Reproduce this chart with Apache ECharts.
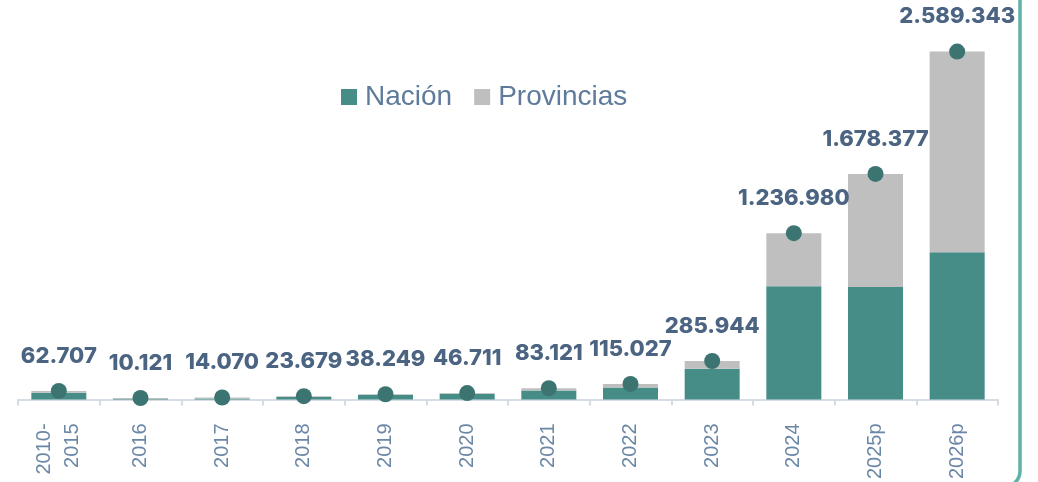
<!DOCTYPE html>
<html>
<head>
<meta charset="utf-8">
<script src="https://cdn.jsdelivr.net/npm/echarts@6/dist/echarts.min.js"></script>
<style>
html,body{margin:0;padding:0;background:#fff;}
#chart{width:1038px;height:482px;}
</style>
</head>
<body>
<div id="chart"></div>
<script>
const categories = ['2010-\n2015','2016','2017','2018','2019','2020','2021','2022','2023','2024','2025p','2026p'];
const nacion = [50000, 3000, 6000, 18000, 34000, 42000, 66000, 88000, 228000, 842000, 837000, 1096000];
const provincias = [12707, 7121, 8070, 5679, 4249, 4711, 17121, 27027, 57944, 394980, 841377, 1493343];
const totals = [62707, 10121, 14070, 23679, 38249, 46711, 83121, 115027, 285944, 1236980, 1678377, 2589343];

function fmt(v){ return String(v).replace(/\B(?=(\d{3})+(?!\d))/g, '.'); }

const chart = echarts.init(document.getElementById('chart'));
chart.setOption({
  animation: false,
  backgroundColor: '#ffffff',
  grid: { left: 18, right: 40, top: 0, bottom: 77, containLabel: false },
  legend: {
    left: 336, top: 78,
    icon: 'rect', itemWidth: 16, itemHeight: 16, itemGap: 22,
    textStyle: { fontFamily: 'Liberation Sans', fontSize: 28, color: '#5F7B9B', padding: [0,0,0,3] },
    data: ['Nación', 'Provincias']
  },
  xAxis: {
    type: 'category',
    data: categories,
    offset: 4,
    axisLine: { lineStyle: { color: '#D6DCE4', width: 2 } },
    axisTick: { show: true, length: 6, lineStyle: { color: '#D6DCE4', width: 2 } },
    axisLabel: {
      rotate: 90, margin: 20, interval: 0,
      fontFamily: 'Liberation Sans', fontSize: 20, color: '#6B87A6', lineHeight: 28
    }
  },
  yAxis: { type: 'value', min: 0, max: 2973000, show: false, splitLine: { show: false } },
  graphic: [{
    type: 'rect',
    shape: { x: -50, y: -50, width: 1070, height: 537, r: 16 },
    style: { fill: 'none', stroke: '#5DB3A7', lineWidth: 3.5 },
    silent: true, z: 100
  }],
  series: [
    {
      name: 'Nación', type: 'bar', stack: 'total', barWidth: 55,
      itemStyle: { color: '#468D87' },
      data: nacion
    },
    {
      name: 'Provincias', type: 'bar', stack: 'total', barWidth: 55,
      itemStyle: { color: '#BFBFBF' },
      data: provincias
    },
    {
      name: 'Total', type: 'scatter', symbol: 'circle', symbolSize: 16,
      itemStyle: { color: '#3C7472', opacity: 1 },
      z: 5,
      label: {
        show: true, position: 'top', distance: 16,
        fontFamily: 'Inter', fontWeight: 800, fontSize: 22, color: '#4B6482',
        formatter: p => fmt(p.value)
      },
      data: totals
    }
  ]
});
</script>
</body>
</html>
